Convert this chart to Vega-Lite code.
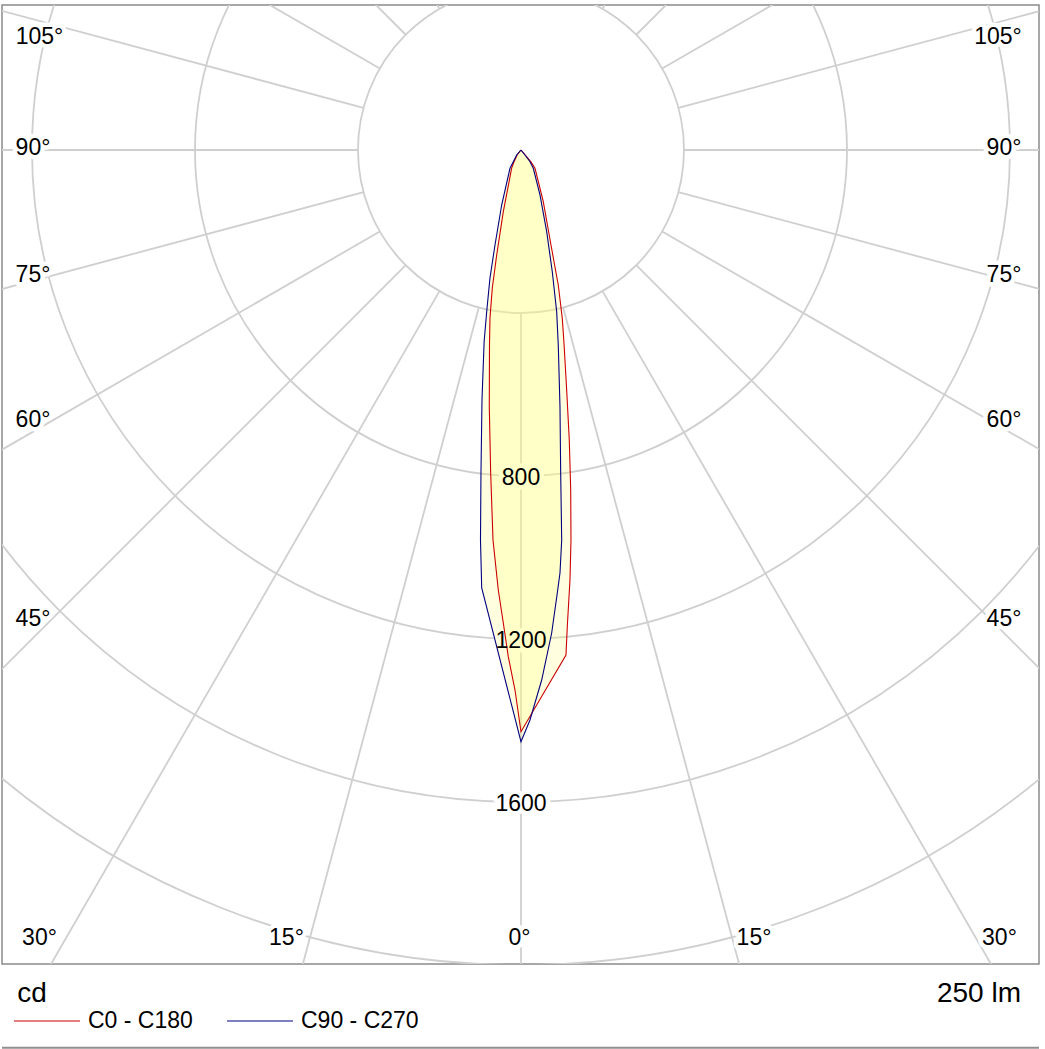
{
  "$schema": "https://vega.github.io/schema/vega-lite/v6.json",
  "width": 1037,
  "height": 959,
  "autosize": {"type": "none"},
  "padding": {"left": 2, "top": 5, "right": 6, "bottom": 85},
  "background": "white",
  "config": {
    "view": {"stroke": "#8a8a8a", "strokeWidth": 1.5},
    "font": "Liberation Sans"
  },
  "datasets": {
    "rings": [{"cd": 400}, {"cd": 800}, {"cd": 1200}, {"cd": 1600}, {"cd": 2000}],
    "spokes": [
      {"angle": 0, "x1": 0, "y1": -400, "x2": 0, "y2": -4000},
      {"angle": -15, "x1": -103.5, "y1": -386.4, "x2": -1035.3, "y2": -3863.7},
      {"angle": 15, "x1": 103.5, "y1": -386.4, "x2": 1035.3, "y2": -3863.7},
      {"angle": -30, "x1": -200, "y1": -346.4, "x2": -2000, "y2": -3464.1},
      {"angle": 30, "x1": 200, "y1": -346.4, "x2": 2000, "y2": -3464.1},
      {"angle": -45, "x1": -282.8, "y1": -282.8, "x2": -2828.4, "y2": -2828.4},
      {"angle": 45, "x1": 282.8, "y1": -282.8, "x2": 2828.4, "y2": -2828.4},
      {"angle": -60, "x1": -346.4, "y1": -200, "x2": -3464.1, "y2": -2000},
      {"angle": 60, "x1": 346.4, "y1": -200, "x2": 3464.1, "y2": -2000},
      {"angle": -75, "x1": -386.4, "y1": -103.5, "x2": -3863.7, "y2": -1035.3},
      {"angle": 75, "x1": 386.4, "y1": -103.5, "x2": 3863.7, "y2": -1035.3},
      {"angle": -90, "x1": -400, "y1": 0, "x2": -4000, "y2": 0},
      {"angle": 90, "x1": 400, "y1": 0, "x2": 4000, "y2": 0},
      {"angle": -105, "x1": -386.4, "y1": 103.5, "x2": -3863.7, "y2": 1035.3},
      {"angle": 105, "x1": 386.4, "y1": 103.5, "x2": 3863.7, "y2": 1035.3},
      {"angle": -120, "x1": -346.4, "y1": 200, "x2": -3464.1, "y2": 2000},
      {"angle": 120, "x1": 346.4, "y1": 200, "x2": 3464.1, "y2": 2000},
      {"angle": -135, "x1": -282.8, "y1": 282.8, "x2": -2828.4, "y2": 2828.4},
      {"angle": 135, "x1": 282.8, "y1": 282.8, "x2": 2828.4, "y2": 2828.4},
      {"angle": -150, "x1": -200, "y1": 346.4, "x2": -2000, "y2": 3464.1},
      {"angle": 150, "x1": 200, "y1": 346.4, "x2": 2000, "y2": 3464.1},
      {"angle": -165, "x1": -103.5, "y1": 386.4, "x2": -1035.3, "y2": 3863.7},
      {"angle": 165, "x1": 103.5, "y1": 386.4, "x2": 1035.3, "y2": 3863.7},
      {"angle": 180, "x1": 0, "y1": 400, "x2": 0, "y2": 4000}
    ],
    "labels": [
      {"label": "105°", "x": -1181.6, "y": 260.1},
      {"label": "90°", "x": -1197.5, "y": -12.3},
      {"label": "75°", "x": -1197.5, "y": -323.2},
      {"label": "60°", "x": -1197.5, "y": -680.5},
      {"label": "45°", "x": -1197.5, "y": -1167.4},
      {"label": "30°", "x": -1181.6, "y": -1950.9},
      {"label": "15°", "x": -575.5, "y": -1950.9},
      {"label": "0°", "x": -3.7, "y": -1950.9},
      {"label": "15°", "x": 571.8, "y": -1950.9},
      {"label": "30°", "x": 1174.2, "y": -1950.9},
      {"label": "105°", "x": 1170.6, "y": 260.1},
      {"label": "90°", "x": 1185.3, "y": -12.3},
      {"label": "75°", "x": 1185.3, "y": -323.2},
      {"label": "60°", "x": 1185.3, "y": -680.5},
      {"label": "45°", "x": 1185.3, "y": -1167.4},
      {"label": "800", "x": 0, "y": -822.1},
      {"label": "1200", "x": 0, "y": -1222.1},
      {"label": "1600", "x": 0, "y": -1622.1}
    ],
    "notes": [
      {"label": "cd", "x": -1200.0, "y": -2090.8},
      {"label": "250 lm", "x": 1123.9, "y": -2090.8}
    ],
    "curves": [
      {"series": "C0 - C180", "i": 1, "x": 0, "y": 0},
      {"series": "C0 - C180", "i": 2, "x": -9.5, "y": -12.3},
      {"series": "C0 - C180", "i": 3, "x": -17, "y": -28.7},
      {"series": "C0 - C180", "i": 4, "x": -22.8, "y": -44.2},
      {"series": "C0 - C180", "i": 5, "x": -43.4, "y": -151.4},
      {"series": "C0 - C180", "i": 6, "x": -59.6, "y": -257.7},
      {"series": "C0 - C180", "i": 7, "x": -70.4, "y": -338.7},
      {"series": "C0 - C180", "i": 8, "x": -76.1, "y": -412.3},
      {"series": "C0 - C180", "i": 9, "x": -77.3, "y": -478.5},
      {"series": "C0 - C180", "i": 10, "x": -77.8, "y": -629.9},
      {"series": "C0 - C180", "i": 11, "x": -74.4, "y": -792.6},
      {"series": "C0 - C180", "i": 12, "x": -68.7, "y": -957.1},
      {"series": "C0 - C180", "i": 13, "x": -55.7, "y": -1079.8},
      {"series": "C0 - C180", "i": 14, "x": -43.4, "y": -1160.7},
      {"series": "C0 - C180", "i": 15, "x": -31.2, "y": -1243.4},
      {"series": "C0 - C180", "i": 16, "x": -14.7, "y": -1325.2},
      {"series": "C0 - C180", "i": 17, "x": 0, "y": -1427.5},
      {"series": "C0 - C180", "i": 18, "x": 110.4, "y": -1239.3},
      {"series": "C0 - C180", "i": 19, "x": 113.6, "y": -1169.8},
      {"series": "C0 - C180", "i": 20, "x": 120.2, "y": -1055.2},
      {"series": "C0 - C180", "i": 21, "x": 122.7, "y": -957.1},
      {"series": "C0 - C180", "i": 22, "x": 122.0, "y": -834.4},
      {"series": "C0 - C180", "i": 23, "x": 118.5, "y": -711.7},
      {"series": "C0 - C180", "i": 24, "x": 112.1, "y": -589.0},
      {"series": "C0 - C180", "i": 25, "x": 105.5, "y": -473.6},
      {"series": "C0 - C180", "i": 26, "x": 101.3, "y": -413.0},
      {"series": "C0 - C180", "i": 27, "x": 91.5, "y": -331.3},
      {"series": "C0 - C180", "i": 28, "x": 73.6, "y": -233.1},
      {"series": "C0 - C180", "i": 29, "x": 54.7, "y": -126.9},
      {"series": "C0 - C180", "i": 30, "x": 34.4, "y": -44.9},
      {"series": "C0 - C180", "i": 31, "x": 24, "y": -28.7},
      {"series": "C0 - C180", "i": 32, "x": 10.5, "y": -12.3},
      {"series": "C0 - C180", "i": 33, "x": 0, "y": 0},
      {"series": "C90 - C270", "i": 1, "x": 0, "y": 0},
      {"series": "C90 - C270", "i": 2, "x": -10.6, "y": -12.3},
      {"series": "C90 - C270", "i": 3, "x": -18.9, "y": -28.7},
      {"series": "C90 - C270", "i": 4, "x": -27.0, "y": -44.9},
      {"series": "C90 - C270", "i": 5, "x": -47.4, "y": -135.0},
      {"series": "C90 - C270", "i": 6, "x": -63.8, "y": -233.1},
      {"series": "C90 - C270", "i": 7, "x": -76.1, "y": -314.1},
      {"series": "C90 - C270", "i": 8, "x": -84.2, "y": -396.8},
      {"series": "C90 - C270", "i": 9, "x": -90.5, "y": -471.1},
      {"series": "C90 - C270", "i": 10, "x": -95.7, "y": -613.5},
      {"series": "C90 - C270", "i": 11, "x": -98.2, "y": -792.6},
      {"series": "C90 - C270", "i": 12, "x": -99.4, "y": -957.1},
      {"series": "C90 - C270", "i": 13, "x": -96.4, "y": -1074.8},
      {"series": "C90 - C270", "i": 14, "x": 0, "y": -1452.0},
      {"series": "C90 - C270", "i": 15, "x": 22.1, "y": -1398.8},
      {"series": "C90 - C270", "i": 16, "x": 50.8, "y": -1300.6},
      {"series": "C90 - C270", "i": 17, "x": 75.3, "y": -1185.3},
      {"series": "C90 - C270", "i": 18, "x": 89.1, "y": -1087.1},
      {"series": "C90 - C270", "i": 19, "x": 95.7, "y": -1038.0},
      {"series": "C90 - C270", "i": 20, "x": 99.9, "y": -957.1},
      {"series": "C90 - C270", "i": 21, "x": 97.4, "y": -792.6},
      {"series": "C90 - C270", "i": 22, "x": 95.7, "y": -629.9},
      {"series": "C90 - C270", "i": 23, "x": 91.5, "y": -478.5},
      {"series": "C90 - C270", "i": 24, "x": 87.6, "y": -396.8},
      {"series": "C90 - C270", "i": 25, "x": 76.8, "y": -298.7},
      {"series": "C90 - C270", "i": 26, "x": 63.1, "y": -200.5},
      {"series": "C90 - C270", "i": 27, "x": 46.6, "y": -110.4},
      {"series": "C90 - C270", "i": 28, "x": 30.2, "y": -44.9},
      {"series": "C90 - C270", "i": 29, "x": 22.1, "y": -28.7},
      {"series": "C90 - C270", "i": 30, "x": 9.8, "y": -12.3},
      {"series": "C90 - C270", "i": 31, "x": 0, "y": 0}
    ]
  },
  "layer": [
    {
      "data": {"name": "rings"},
      "mark": {"type": "point", "shape": "circle", "filled": false, "stroke": "#cfcfcf", "strokeWidth": 1.8, "opacity": 1, "clip": true},
      "encoding": {
        "x": {"datum": 0, "type": "quantitative", "scale": {"domain": [-1273.6, 1271.2], "nice": false, "zero": false}, "axis": null},
        "y": {"datum": 0, "type": "quantitative", "scale": {"domain": [-1997.5, 355.8], "nice": false, "zero": false}, "axis": null},
        "size": {"field": "cd", "type": "quantitative", "scale": {"type": "pow", "exponent": 2, "domain": [0, 2000], "range": [0, 2656900], "zero": true}, "legend": null}
      }
    },
    {
      "data": {"name": "spokes"},
      "mark": {"type": "rule", "stroke": "#cfcfcf", "strokeWidth": 1.8, "clip": true},
      "encoding": {
        "x": {"field": "x1", "type": "quantitative", "scale": {"domain": [-1273.6, 1271.2], "nice": false, "zero": false}, "axis": null},
        "y": {"field": "y1", "type": "quantitative", "scale": {"domain": [-1997.5, 355.8], "nice": false, "zero": false}, "axis": null},
        "x2": {"field": "x2"},
        "y2": {"field": "y2"}
      }
    },
    {
      "data": {"name": "labels"},
      "mark": {"type": "text", "fontSize": 23, "font": "Liberation Sans", "align": "center", "baseline": "alphabetic", "fill": "white", "stroke": "white", "strokeWidth": 9, "strokeJoin": "round"},
      "encoding": {
        "x": {"field": "x", "type": "quantitative", "scale": {"domain": [-1273.6, 1271.2], "nice": false, "zero": false}, "axis": null},
        "y": {"field": "y", "type": "quantitative", "scale": {"domain": [-1997.5, 355.8], "nice": false, "zero": false}, "axis": null},
        "text": {"field": "label"}
      }
    },
    {
      "data": {"name": "curves"},
      "mark": {"type": "line", "interpolate": "linear", "fill": "#ffff80", "fillOpacity": 0.25, "stroke": "transparent", "strokeOpacity": 0},
      "encoding": {
        "x": {"field": "x", "type": "quantitative", "scale": {"domain": [-1273.6, 1271.2], "nice": false, "zero": false}, "axis": null},
        "y": {"field": "y", "type": "quantitative", "scale": {"domain": [-1997.5, 355.8], "nice": false, "zero": false}, "axis": null},
        "detail": {"field": "series"},
        "order": {"field": "i", "type": "quantitative"}
      }
    },
    {
      "data": {"name": "curves"},
      "mark": {"type": "line", "interpolate": "linear", "strokeWidth": 1.1},
      "encoding": {
        "x": {"field": "x", "type": "quantitative", "scale": {"domain": [-1273.6, 1271.2], "nice": false, "zero": false}, "axis": null},
        "y": {"field": "y", "type": "quantitative", "scale": {"domain": [-1997.5, 355.8], "nice": false, "zero": false}, "axis": null},
        "order": {"field": "i", "type": "quantitative"},
        "color": {
          "field": "series",
          "type": "nominal",
          "scale": {"domain": ["C0 - C180", "C90 - C270"], "range": ["#cc0000", "#000080"]},
          "legend": {
            "title": null,
            "orient": "none",
            "legendX": 11,
            "legendY": 982,
            "direction": "horizontal",
            "symbolType": "stroke",
            "symbolSize": 4356,
            "symbolStrokeWidth": 1.2,
            "labelFontSize": 23,
            "labelFont": "Liberation Sans",
            "labelColor": "black",
            "labelOffset": 7,
            "columnPadding": 31,
            "padding": 0,
            "labelLimit": 400
          }
        }
      }
    },
    {
      "data": {"name": "labels"},
      "mark": {"type": "text", "fontSize": 23, "font": "Liberation Sans", "align": "center", "baseline": "alphabetic", "color": "black"},
      "encoding": {
        "x": {"field": "x", "type": "quantitative", "scale": {"domain": [-1273.6, 1271.2], "nice": false, "zero": false}, "axis": null},
        "y": {"field": "y", "type": "quantitative", "scale": {"domain": [-1997.5, 355.8], "nice": false, "zero": false}, "axis": null},
        "text": {"field": "label"}
      }
    },
    {
      "data": {"name": "notes"},
      "mark": {"type": "text", "fontSize": 28, "font": "Liberation Sans", "align": "center", "baseline": "alphabetic", "color": "black"},
      "encoding": {
        "x": {"field": "x", "type": "quantitative", "scale": {"domain": [-1273.6, 1271.2], "nice": false, "zero": false}, "axis": null},
        "y": {"field": "y", "type": "quantitative", "scale": {"domain": [-1997.5, 355.8], "nice": false, "zero": false}, "axis": null},
        "text": {"field": "label"}
      }
    },
    {
      "data": {"values": [{"edge": -2203}]},
      "mark": {"type": "rule", "stroke": "#8f8f8f", "strokeWidth": 2},
      "encoding": {
        "y": {"field": "edge", "type": "quantitative", "scale": {"domain": [-1997.5, 355.8], "nice": false, "zero": false}, "axis": null}
      }
    }
  ]
}
